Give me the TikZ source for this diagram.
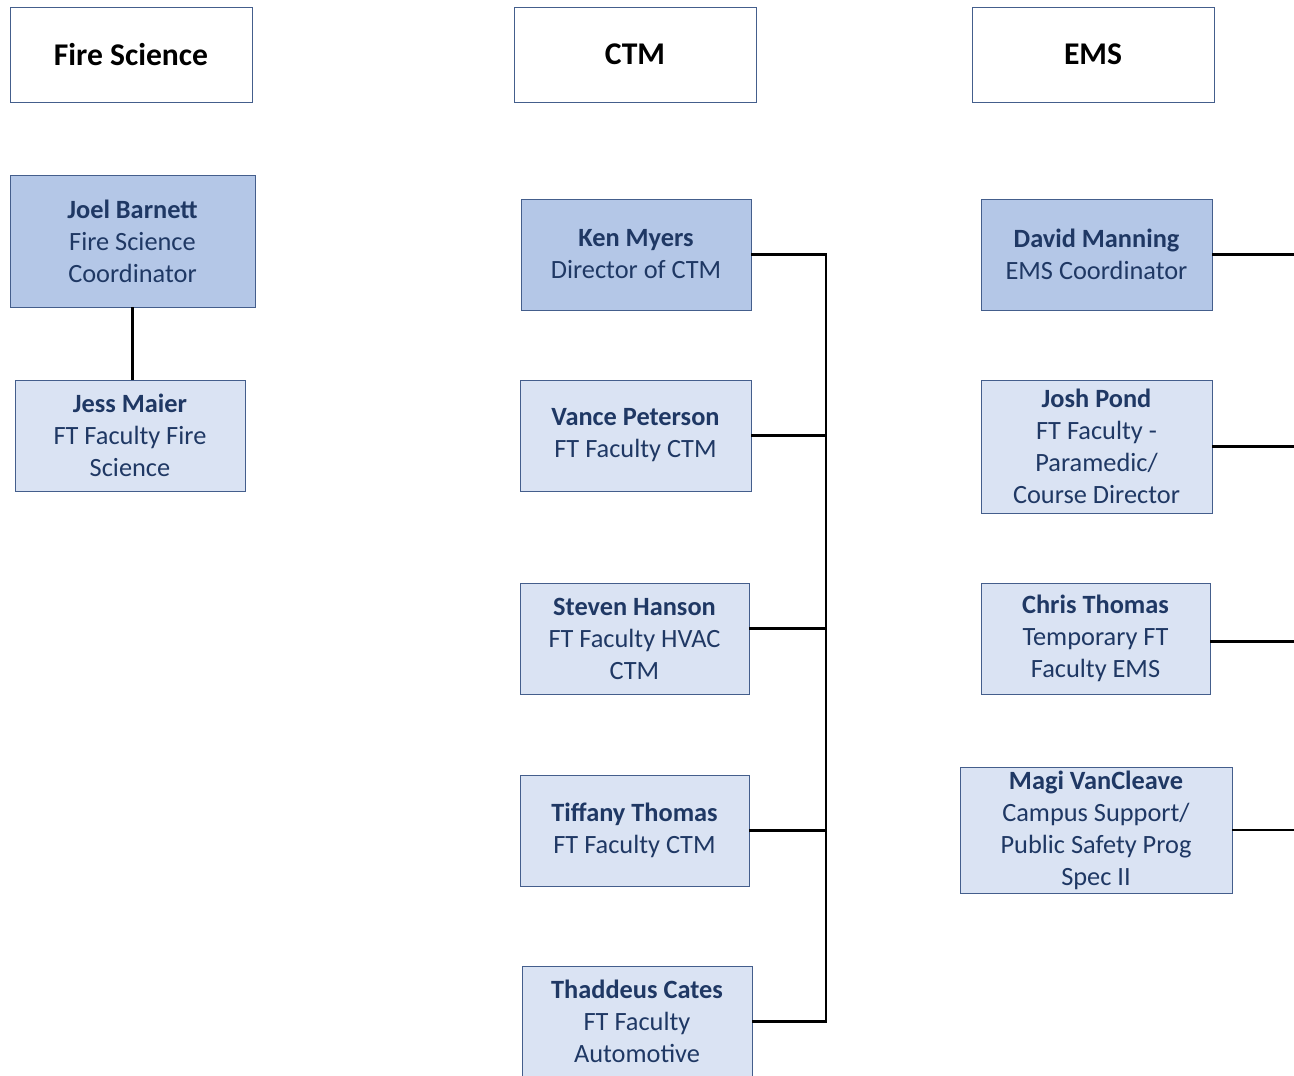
\documentclass[tikz,border=0pt]{standalone}
\usepackage{fontspec}
\setmainfont{Carlito}
\usetikzlibrary{calc, positioning}
\definecolor{boxline}{RGB}{68,94,140}
\definecolor{leadfill}{RGB}{180,199,231}
\definecolor{stafffill}{RGB}{218,227,243}
\definecolor{navy}{RGB}{31,56,100}
\tikzset{
    head/.style={draw=boxline, fill=white, font=\bfseries\fontsize{18}{21}\selectfont,
        minimum width=4.84cm, minimum height=1.9cm, inner sep=0pt},
    card/.style={draw=boxline, text=navy, align=center, inner sep=0pt,
        font=\fontsize{15}{18.2}\selectfont},
    lead/.style={card, fill=leadfill},
    staff/.style={card, fill=stafffill},
    link/.style={line width=1.4pt}
}

\begin{document}
\begin{tikzpicture}[x=0.02cm, y=-0.02cm]
    \useasboundingbox (0,0) rectangle (1294,1075);
    % column heads
    \node[head] (fire) at (131,54.5) {Fire Science};
    \node[head] (ctm) at (635,54.5) {CTM};
    \node[head] (ems) at (1093,54.5) {EMS};
    % fire science
    \node[lead, minimum width=4.9cm, minimum height=2.64cm] (joel) at (132.5,241) {\textbf{Joel Barnett}\\Fire Science\\Coordinator};
    \node[staff, minimum width=4.6cm, minimum height=2.22cm] (jess) at (130,435.5) {\textbf{Jess Maier}\\FT Faculty Fire\\Science};
    \draw[link] (joel.south) -- (joel.south |- jess.north);
    % ctm
    \node[lead, minimum width=4.6cm, minimum height=2.22cm] (ken) at (636,254.5) {\textbf{Ken Myers}\\Director of CTM};
    \node[staff, minimum width=4.62cm, minimum height=2.22cm] (vance) at (635.5,435.5) {\textbf{Vance Peterson}\\FT Faculty CTM};
    \node[staff, minimum width=4.58cm, minimum height=2.22cm] (steven) at (634.5,638.5) {\textbf{Steven Hanson}\\FT Faculty HVAC\\CTM};
    \node[staff, minimum width=4.58cm, minimum height=2.22cm] (tiffany) at (634.5,830.5) {\textbf{Tiffany Thomas}\\FT Faculty CTM};
    \node[staff, minimum width=4.6cm, minimum height=2.22cm] (thad) at (637,1021.5) {\textbf{Thaddeus Cates}\\FT Faculty\\Automotive};
    \coordinate (ctmbus) at (826,0);
    \draw[link] (ken.east) -- (ken.east -| ctmbus) -- (thad.east -| ctmbus) -- (thad.east);
    \draw[link] (vance.east) -- (vance.east -| ctmbus);
    \draw[link] ($(steven.east)+(0,-10)$) -- ($(steven.east -| ctmbus)+(0,-10)$);
    \draw[link] (tiffany.east) -- (tiffany.east -| ctmbus);
    % ems
    \node[lead, minimum width=4.62cm, minimum height=2.22cm] (david) at (1096.5,254.5) {\textbf{David Manning}\\EMS Coordinator};
    \node[staff, minimum width=4.62cm, minimum height=2.66cm] (josh) at (1096.5,446.5) {\textbf{Josh Pond}\\FT Faculty -\\Paramedic/\\Course Director};
    \node[staff, minimum width=4.58cm, minimum height=2.22cm] (chris) at (1095.5,638.5) {\textbf{Chris Thomas}\\Temporary FT\\Faculty EMS};
    \node[staff, minimum width=5.44cm, minimum height=2.52cm] (magi) at (1096,830) {\textbf{Magi VanCleave}\\Campus Support/\\Public Safety Prog\\Spec II};
    \coordinate (emsbus) at (1294,0);
    \draw[link] (david.east) -- (david.east -| emsbus);
    \draw[link] (josh.east) -- (josh.east -| emsbus);
    \draw[link] ($(chris.east)+(0,3)$) -- ($(chris.east -| emsbus)+(0,3)$);
    \draw[link] (magi.east) -- (magi.east -| emsbus);
\end{tikzpicture}
\end{document}
